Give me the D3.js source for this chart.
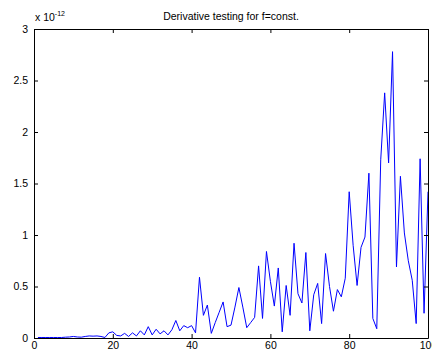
<!DOCTYPE html>
<html>
<head>
<meta charset="utf-8">
<script src="https://cdn.jsdelivr.net/npm/d3@7"></script>
<style>
html,body{margin:0;padding:0;background:#fff;overflow:hidden;}
svg{display:block;}
text{font-family:"Liberation Sans",Arial,sans-serif;fill:#000;}
</style>
</head>
<body>
<svg id="chart" width="432" height="352"></svg>
<script>
const title = "Derivative testing for f=const.";
const xTicks = [0, 20, 40, 60, 80, 100];
const yTicks = [0, 0.5, 1, 1.5, 2, 2.5, 3];
const yTickLabels = ["0", "0.5", "1", "1.5", "2", "2.5", "3"];
const exponentLabel = "x 10";
const exponentSup = "-12";
// values in units of 1e-12, for x = 1..100
const xValues = d3.range(1, 101);
const yValues = [
  0.005, 0.005, 0.005, 0.005, 0.005, 0.005, 0.005, 0.008, 0.01, 0.015,
  0.01, 0.008, 0.015, 0.02, 0.018, 0.02, 0.015, 0.005, 0.05, 0.06,
  0.025, 0.02, 0.045, 0.015, 0.05, 0.02, 0.07, 0.03, 0.11, 0.03,
  0.085, 0.04, 0.07, 0.03, 0.08, 0.17, 0.07, 0.12, 0.1, 0.12,
  0.05, 0.59, 0.22, 0.32, 0.045, 0.15, 0.25, 0.35, 0.11, 0.125,
  0.3, 0.49, 0.3, 0.1, 0.15, 0.2, 0.7, 0.19, 0.84, 0.55,
  0.31, 0.68, 0.06, 0.51, 0.22, 0.92, 0.43, 0.34, 0.83, 0.07,
  0.42, 0.53, 0.14, 0.82, 0.5, 0.26, 0.47, 0.4, 0.58, 1.42,
  0.9, 0.51, 0.88, 0.98, 1.6, 0.19, 0.09, 1.73, 2.38, 1.7,
  2.78, 0.69, 1.57, 1.02, 0.75, 0.56, 0.14, 1.74, 0.24, 1.42
];

const svg = d3.select("#chart");
const L = 34, R = 428, T = 29, B = 338;
const x = d3.scaleLinear().domain([0, 100]).range([L, R]);
const y = d3.scaleLinear().domain([0, 3]).range([B, T]);
const tickLen = 4;

// plot line
const line = d3.line().x((d, i) => x(xValues[i])).y(d => y(d));
svg.append("path").datum(yValues)
  .attr("d", line)
  .attr("fill", "none")
  .attr("stroke", "#0000ff")
  .attr("stroke-width", 1);

// axes (MATLAB style: inward ticks on all sides)
const gx = svg.append("g").attr("transform", `translate(0,${B})`)
  .call(d3.axisBottom(x).tickValues(xTicks).tickSizeInner(-tickLen).tickSizeOuter(0).tickPadding(6).tickFormat(d3.format("d")));
const gxt = svg.append("g").attr("transform", `translate(0,${T})`)
  .call(d3.axisTop(x).tickValues(xTicks).tickSizeInner(-tickLen).tickSizeOuter(0).tickFormat(""));
const gy = svg.append("g").attr("transform", `translate(${L},0)`)
  .call(d3.axisLeft(y).tickValues(yTicks).tickSizeInner(-tickLen).tickSizeOuter(0).tickPadding(6).tickFormat((d, i) => yTickLabels[i]));
const gyr = svg.append("g").attr("transform", `translate(${R},0)`)
  .call(d3.axisRight(y).tickValues(yTicks).tickSizeInner(-tickLen).tickSizeOuter(0).tickFormat(""));

[gx, gxt, gy, gyr].forEach(g => {
  g.select(".domain").attr("stroke", "#000").attr("stroke-width", 1);
  g.selectAll(".tick line").attr("stroke", "#000");
  g.selectAll("text").attr("font-size", 10.5).attr("fill", "#000")
    .attr("font-family", '"Liberation Sans",Arial,sans-serif');
});
gx.selectAll("text").attr("dy", "0.71em").attr("y", 4);

// exponent label
const ex = svg.append("text").attr("x", 35).attr("y", 21).attr("font-size", 10.5);
ex.append("tspan").text(exponentLabel);
ex.append("tspan").attr("dy", -5).attr("font-size", 7).text(exponentSup);

// title
svg.append("text").attr("x", (L + R) / 2).attr("y", 20)
  .attr("text-anchor", "middle").attr("font-size", 10.5).text(title);
</script>
</body>
</html>
